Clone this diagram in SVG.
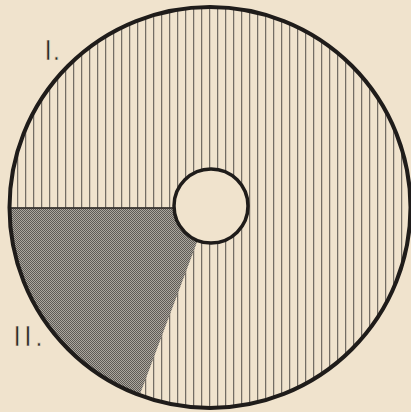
<svg xmlns="http://www.w3.org/2000/svg" width="411" height="412" viewBox="0 0 411 412">
<style>
.lbl{font-family:"Liberation Sans",Arial,sans-serif;font-size:30px;fill:#2a2623;stroke:#efe3cd;stroke-width:0.7}
</style>
<defs>
<pattern id="vh" patternUnits="userSpaceOnUse" x="0" y="0" width="8" height="8">
<rect width="8" height="8" fill="#f0e3cd"/>
<rect x="1.2" y="0" width="1" height="8" fill="#55504a"/>
</pattern>
<pattern id="ck" patternUnits="userSpaceOnUse" x="0" y="0" width="2" height="2">
<rect width="2" height="2" fill="#aca79e"/>
<rect x="0" y="0" width="1" height="1" fill="#5e5a55"/>
<rect x="1" y="1" width="1" height="1" fill="#5e5a55"/>
</pattern>
</defs>
<rect width="411" height="412" fill="#f0e3cd"/>
<g id="disc">
<circle cx="210" cy="207.5" r="200.5" fill="url(#vh)"/>
</g>
<g id="sector">
<path d="M210 207.5 L9.5 207.5 A200.5 200.5 0 0 0 139.6 395.2 Z" fill="url(#ck)"/>
<line x1="9.5" y1="208" x2="180" y2="208" stroke="#2a2623" stroke-width="1.5"/>
</g>
<g id="outline">
<circle cx="210" cy="207.5" r="200.5" fill="none" stroke="#1f1c1a" stroke-width="4"/>
</g>
<g id="hole">
<circle cx="211" cy="206" r="37" fill="#f0e3cd" stroke="#1f1c1a" stroke-width="3.5"/>
</g>
<g id="labels">
<text class="lbl" x="44" y="60">I.</text>
<text class="lbl" x="13" y="346" letter-spacing="2.5">II.</text>
</g>
</svg>
